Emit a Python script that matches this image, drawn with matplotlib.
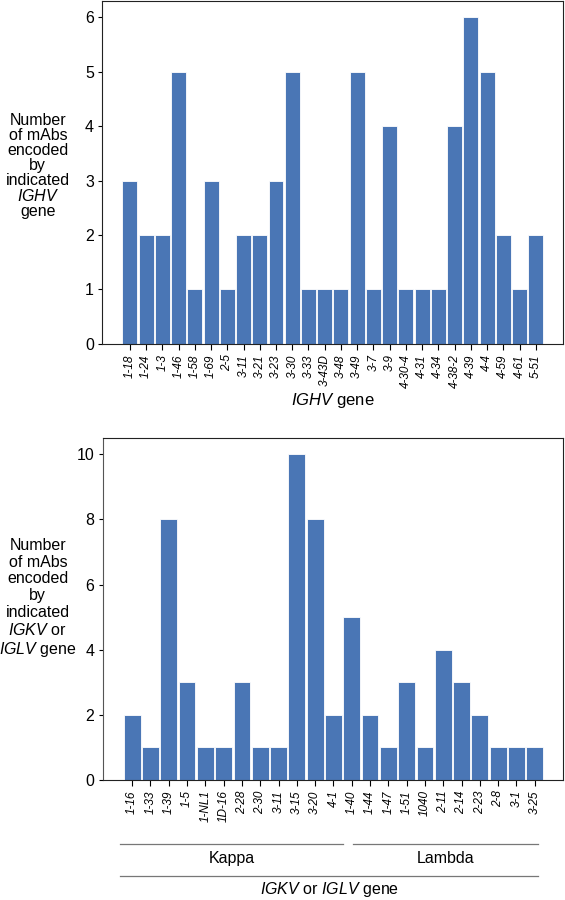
import matplotlib.pyplot as plt

plt.rcParams["font.family"] = ["Liberation Sans", "DejaVu Sans"]
plt.rcParams["mathtext.fontset"] = "custom"
plt.rcParams["mathtext.rm"] = "Liberation Sans"
plt.rcParams["mathtext.it"] = "Liberation Sans:italic"

# IGHV genes (top panel)
ighv_genes = ["1-18", "1-24", "1-3", "1-46", "1-58", "1-69", "2-5", "3-11", "3-21",
              "3-23", "3-30", "3-33", "3-43D", "3-48", "3-49", "3-7", "3-9", "4-30-4",
              "4-31", "4-34", "4-38-2", "4-39", "4-4", "4-59", "4-61", "5-51"]
ighv_counts = [3, 2, 2, 5, 1, 3, 1, 2, 2, 3, 5, 1, 1, 1, 5, 1, 4, 1, 1, 1, 4, 6, 5, 2, 1, 2]

# IGKV / IGLV genes (bottom panel)
kappa_genes = ["1-16", "1-33", "1-39", "1-5", "1-NL1", "1D-16", "2-28", "2-30",
               "3-11", "3-15", "3-20", "4-1"]
kappa_counts = [2, 1, 8, 3, 1, 1, 3, 1, 1, 10, 8, 2]
lambda_genes = ["1-40", "1-44", "1-47", "1-51", "1040", "2-11", "2-14", "2-23",
                "2-8", "3-1", "3-25"]
lambda_counts = [5, 2, 1, 3, 1, 4, 3, 2, 1, 1, 1]

bar_color = "#4a76b5"
line_grey = "#777777"

fig = plt.figure(figsize=(5.65, 9), dpi=100)

# ---- top panel ----
ax1 = fig.add_axes([0.181, 0.618, 0.815, 0.381])
x1 = range(len(ighv_genes))
ax1.bar(x1, ighv_counts, width=0.92, color=bar_color, edgecolor="white", linewidth=0.6)
ax1.set_xlim(-1.7, len(ighv_genes) - 1 + 1.66)
ax1.set_ylim(0, 6.3)
ax1.set_yticks(range(0, 7))
ax1.set_xticks(list(x1))
ax1.set_xticklabels(ighv_genes, rotation=90, style="italic", fontsize=8.5)
ax1.tick_params(axis="y", labelsize=11.5, length=3, pad=3)
ax1.tick_params(axis="x", length=4)
ax1.set_xlabel(r"$\it{IGHV}$ gene", fontsize=12, labelpad=2)
for s in ax1.spines.values():
    s.set_color("#222222")
fig.text(0.067, 0.816,
         "Number\nof mAbs\nencoded\nby\nindicated\n$\\it{IGHV}$\ngene",
         ha="center", va="center", fontsize=11.5, linespacing=1.0)

# ---- bottom panel ----
light_genes = kappa_genes + lambda_genes
light_counts = kappa_counts + lambda_counts
ax2 = fig.add_axes([0.182, 0.1333, 0.814, 0.38])
x2 = range(len(light_genes))
ax2.bar(x2, light_counts, width=0.92, color=bar_color, edgecolor="white", linewidth=0.6)
ax2.set_xlim(-1.6, len(light_genes) - 1 + 1.53)
ax2.set_ylim(0, 10.5)
ax2.set_yticks(range(0, 11, 2))
ax2.set_xticks(list(x2))
ax2.set_xticklabels(light_genes, rotation=90, style="italic", fontsize=8.5)
ax2.tick_params(axis="y", labelsize=11.5, length=3, pad=3)
ax2.tick_params(axis="x", length=4)
ax2.spines["left"].set_color("#555555")
for side in ["bottom", "top", "right"]:
    ax2.spines[side].set_color("#222222")
fig.text(0.067, 0.335,
         "Number\nof mAbs\nencoded\nby\nindicated\n$\\it{IGKV}$ or\n$\\it{IGLV}$ gene",
         ha="center", va="center", fontsize=11.5, linespacing=1.15)

# group brackets under the tick labels
trans = ax2.get_xaxis_transform()
nk = len(kappa_genes)
nl = len(light_genes)
ax2.plot([-0.65, nk - 0.5], [-0.187, -0.187], transform=trans, color=line_grey,
         linewidth=0.9, clip_on=False)
ax2.plot([nk + 0.08, nl - 0.8], [-0.187, -0.187], transform=trans, color=line_grey,
         linewidth=0.9, clip_on=False)
ax2.text((-0.65 + nk - 0.5) / 2, -0.228, "Kappa", transform=trans,
         ha="center", va="center", fontsize=11.5)
ax2.text((nk + 0.08 + nl - 0.8) / 2, -0.228, "Lambda", transform=trans,
         ha="center", va="center", fontsize=11.5)
ax2.plot([-0.65, nl - 0.8], [-0.281, -0.281], transform=trans, color=line_grey,
         linewidth=0.9, clip_on=False)
ax2.text((-0.65 + nl - 0.8) / 2, -0.32, r"$\it{IGKV}$ or $\it{IGLV}$ gene",
         transform=trans, ha="center", va="center", fontsize=11.5)

fig.savefig("out.png", dpi=100)
plt.close(fig)
